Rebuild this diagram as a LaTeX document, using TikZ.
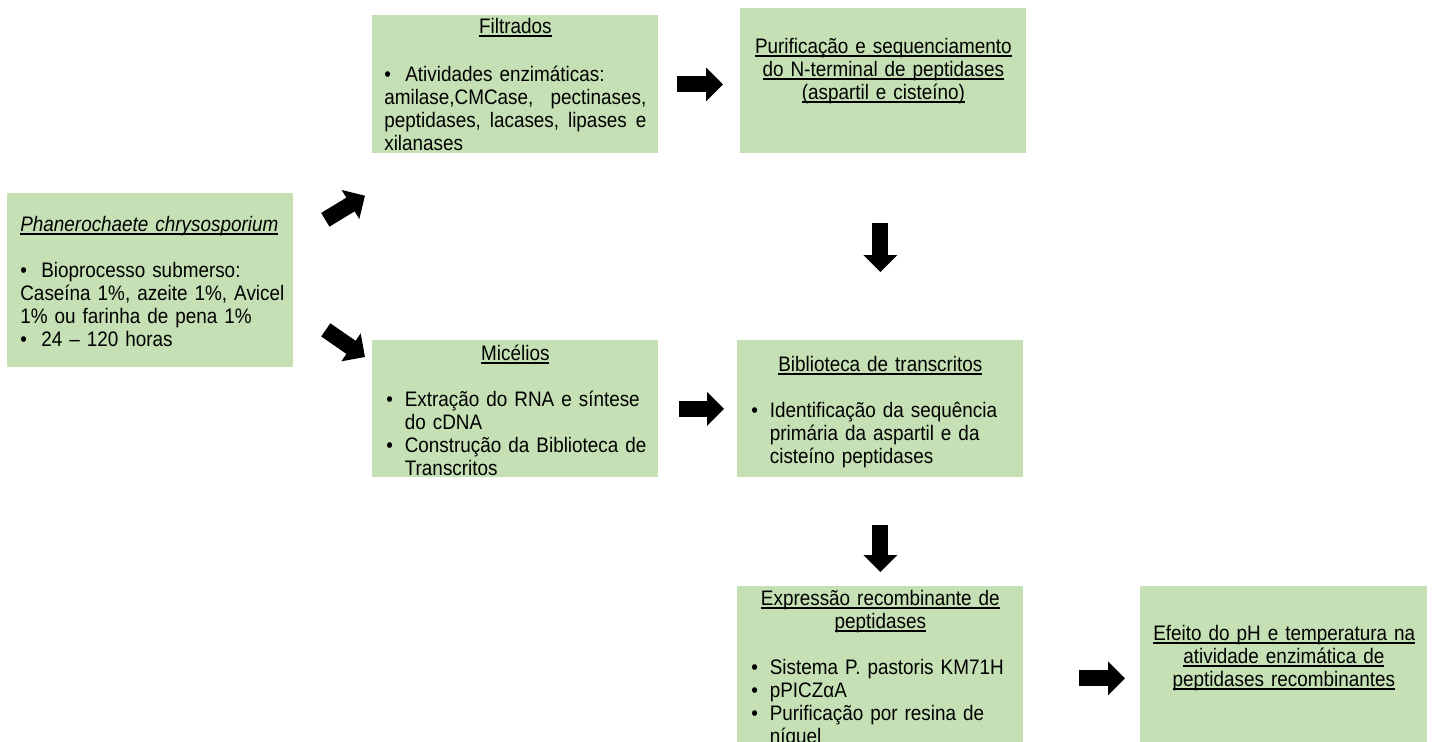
\documentclass[tikz,border=0pt]{standalone}
\usepackage{fontspec}
\setmainfont{Liberation Sans}[FakeStretch=0.9, WordSpace=0.85]
\usetikzlibrary{arrows.meta, calc}
\definecolor{boxGreen}{HTML}{C5E0B4}
\newlength{\px}
\setlength{\px}{0.02cm}
\newcommand{\cardfont}{\fontsize{11.95pt}{13.09pt}\selectfont}
\newcommand{\undl}[1]{\leavevmode\setbox0=\hbox{#1}\rlap{\rule[-3.2\px]{\wd0}{1.4\px}}\box0}
\newcommand{\bul}{\makebox[21\px][l]{\textbullet}}
\newcommand{\nbul}{\makebox[18.5\px][l]{\textbullet}}
\newcommand{\hng}{\hspace*{18.5\px}}

\begin{document}
\begin{tikzpicture}[x=0.02cm, y=-0.02cm,
    card/.style={fill=boxGreen, anchor=north west, inner ysep=0pt,
                 inner xsep=13\px, text width=260\px, align=left,
                 font=\cardfont},
    blk/.style={line width=0.32cm, -{Triangle[length=0.34cm, width=0.66cm]}},
  ]
  \useasboundingbox (0,0) rectangle (1434,742);
  \clip (0,0) rectangle (1434,742);

  % left column
  \node[card, text height=38\px, text depth=136\px] (src) at (7,193)
    {\undl{\textit{Phanerochaete chrysosporium}}\\[23\px]
     \mbox{\bul Bioprocesso submerso:}\\
     \mbox{Caseína 1\%, azeite 1\%, Avicel}\\
     \mbox{1\% ou farinha de pena 1\%}\\
     \mbox{\bul 24 – 120 horas}};

  % middle column
  \node[card, inner xsep=12\px, text width=262\px,
        text height=18\px, text depth=120\px] (filt) at (372,15)
    {\makebox[262\px]{\undl{Filtrados}}\\[25\px]
     \mbox{\bul Atividades enzimáticas:}\\
     \makebox[262\px][s]{amilase,CMCase,\hfill pectinases,}\\
     \makebox[262\px][s]{peptidases,\hfill lacases,\hfill lipases\hfill e}\\
     xilanases};
  \node[card, inner xsep=14\px, text width=258\px,
        text height=20\px, text depth=117\px] (mic) at (372,340)
    {\makebox[258\px]{\undl{Micélios}}\\[23\px]
     \mbox{\nbul Extração do RNA e síntese}\\
     \hng do cDNA\\
     \mbox{\nbul Construção da Biblioteca de}\\
     \hng Transcritos};

  % right column
  \node[card, align=center, text height=45\px, text depth=100\px]
    (puri) at (740,8)
    {\undl{Purificação e sequenciamento}\\
     \undl{do N-terminal de peptidases}\\
     \undl{(aspartil e cisteíno)}};
  \node[card, inner xsep=14\px, text width=258\px,
        text height=31\px, text depth=106\px] (bib) at (737,340)
    {\makebox[258\px]{\undl{Biblioteca de transcritos}}\\[23\px]
     \mbox{\nbul Identificação da sequência}\\
     \hng primária da aspartil e da\\
     \hng cisteíno peptidases};
  \node[card, inner xsep=14\px, text width=258\px,
        text height=19\px, text depth=165\px] (expr) at (737,586)
    {\makebox[258\px]{\undl{Expressão recombinante de}}\\
     \makebox[258\px]{\undl{peptidases}}\\[23\px]
     \mbox{\nbul Sistema P. pastoris KM71H}\\
     \mbox{\nbul pPICZαA}\\
     \mbox{\nbul Purificação por resina de}\\
     \hng níquel};
  \node[card, align=center, text width=261\px,
        text height=54\px, text depth=130\px] (efe) at (1140,586)
    {\undl{Efeito do pH e temperatura na}\\
     \undl{atividade enzimática de}\\
     \undl{peptidases recombinantes}};

  % block arrows
  \coordinate (upTip) at ($(filt.south west)+(-7,42)$);
  \coordinate (downTip) at ($(mic.north west)+(-7,17)$);
  \draw[blk, shorten <=0.74cm] ([yshift=-0.92cm]src.north east) -- (upTip);
  \draw[blk, shorten <=0.78cm] ([yshift=1.2cm]src.south east) -- (downTip);
  \draw[blk, shorten <=0.36cm, shorten >=0.34cm] (filt.east) -- (filt.east -| puri.west);
  \draw[blk, shorten <=0.4cm, shorten >=0.26cm] (mic.east) -- (bib.west);
  \draw[blk, shorten <=1.38cm, shorten >=1.36cm] (bib.north |- puri.south) -- (bib.north);
  \draw[blk, shorten <=0.94cm, shorten >=0.28cm] (bib.south) -- (expr.north);
  \draw[blk, shorten <=1.1cm, shorten >=0.3cm] (expr.east) -- (efe.west);
\end{tikzpicture}
\end{document}
